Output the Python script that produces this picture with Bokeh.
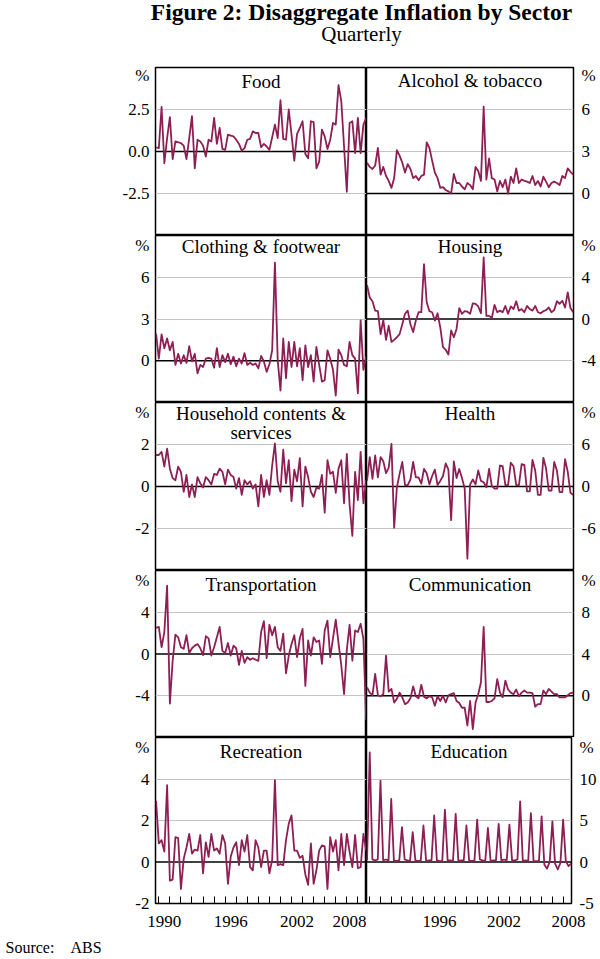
import pandas as pd
from bokeh.plotting import figure
from bokeh.layouts import column, row
from bokeh.models import Range1d, FixedTicker, Span, Label
from bokeh.embed import file_html
from bokeh.resources import INLINE

# ---------------- data (quarterly, 1989Q4 - 2008Q4) ----------------
QUARTERS = pd.period_range("1989Q4", "2008Q4", freq="Q")
X = [q.year + (q.quarter - 1) / 4 for q in QUARTERS]

FOOD = [0.25, 0.2, 2.65, -0.7, 0.8, 2.05, -0.45, 0.6, 0.55, 0.5,
        0.35, -0.45, 0.8, 2.1, -1.0, 0.7, 0.6, 0.35, -0.3, 0.7,
        0.6, 2.0, 0.45, 1.4, 0.15, 0.1, 1.0, 0.95, 0.9, 0.7,
        0.45, 0.05, 0.2, 0.7, 0.75, 1.2, 1.1, 1.1, 0.25, 0.45,
        0.3, 0.1, 0.85, 1.6, 0.8, 3.05, 0.75, 0.7, 2.5, 1.0,
        -0.55, 1.05, 1.4, 1.8, -0.15, -0.4, 1.8, 1.75, -1.0, -0.6,
        1.3, 0.9, 0.15, 0.7, 1.7, 1.6, 3.95, 3.0, 0.3, -2.4,
        1.7, 1.8, -0.1, 2.0, -0.1, 1.6, 2.0]

ALCOHOL_TOBACCO = [2.2, 1.9, 1.75, 2.0, 3.25, 1.35, 1.9, 1.25, 0.9, 0.4,
                   1.1, 3.1, 2.7, 2.2, 1.5, 2.1, 1.75, 1.1, 1.25, 0.95,
                   1.25, 1.35, 3.65, 3.25, 2.35, 1.5, 1.1, 0.4, 0.45, 0.25,
                   0.15, 0.0, 1.4, 0.75, 0.75, 0.5, 0.3, 0.75, 0.6, 0.3,
                   1.9, 1.6, 0.9, 6.2, 1.0, 2.5, 1.1, 1.0, 0.15, 0.9,
                   0.45, 1.0, 0.0, 1.2, 0.75, 1.8, 0.75, 1.0, 0.9, 0.85,
                   0.75, 1.25, 0.6, 0.9, 0.5, 1.2, 0.85, 0.45, 0.75, 0.85,
                   0.75, 0.6, 1.25, 1.1, 1.8, 1.55, 1.35]

CLOTHING_FOOTWEAR = [1.95, 0.15, 1.9, 0.9, 1.6, 0.75, 1.35, -0.3, 0.5, -0.2,
                     0.4, -0.15, 1.05, -0.05, 0.5, -0.9, -0.3, -0.45, 0.15, 0.2,
                     0.15, -0.5, 0.9, -0.45, 0.4, -0.1, 0.5, -0.25, 0.3, -0.4,
                     0.15, -0.2, 0.55, -0.3, -0.15, -0.3, -0.2, -0.55, 0.35, -0.05,
                     -0.8, -0.25, 0.75, 7.05, 0.05, -2.15, 1.6, -1.25, 1.35, -0.45,
                     1.35, -0.4, 0.9, -1.4, 1.1, -0.45, 0.4, -1.5, 1.0, -0.3,
                     -1.5, -1.4, 0.75, 0.15, -0.65, -2.5, 0.8, 0.4, -0.3, -0.4,
                     1.35, 0.4, 0.15, -2.35, 2.9, -0.65, 0.3]

HOUSING = [3.25, 2.05, 1.7, 0.8, 0.75, -1.45, -0.1, -2.0, -0.65, -2.2,
           -2.0, -1.75, -1.45, -0.5, 0.5, 0.8, -0.5, -1.25, -0.15, 0.65,
           0.65, 5.25, 1.6, 0.75, 0.65, -0.15, 0.55, -0.8, -2.7, -2.95,
           -3.4, -1.1, -1.75, -0.95, 1.05, 0.5, 0.75, 0.7, 0.5, 1.5,
           1.45, 1.2, 0.55, 5.9, 0.3, 0.3, 0.1, 1.35, 0.65, 0.8,
           0.65, 1.25, 0.5, 1.2, 0.95, 1.7, 0.8, 0.95, 0.65, 1.25,
           0.95, 0.8, 1.25, 0.65, 0.55, 0.75, 0.85, 1.1, 0.65, 0.85,
           1.7, 1.45, 1.75, 1.1, 2.55, 1.05, 0.65]

HOUSEHOLD = [1.5, 1.5, 1.65, 0.95, 1.8, 0.85, 0.4, 0.3, 0.95, 0.7,
             -0.25, 0.55, -0.5, 0.1, -0.5, 0.45, 0.15, -0.05, 0.45, 0.3,
             0.1, 0.6, 0.55, 0.85, 0.7, 0.1, 0.8, 0.55, 0.45, -0.1,
             0.4, -0.4, 0.3, 0.1, 0.25, -0.1, 0.1, -0.95, 0.55, -0.5,
             0.3, -0.4, 1.0, 2.05, 0.25, -0.25, 1.75, 0.15, 1.25, -0.7,
             0.8, 0.25, 1.35, -0.95, 0.95, 0.45, -0.25, -0.5, -0.05, -0.1,
             0.55, -1.25, 1.25, 0.6, 0.7, -0.3, 0.85, 1.25, -0.8, 1.55,
             -0.85, -2.35, 0.7, -0.65, 1.65, -0.8, 0.3]

HEALTH = [0.85, 4.2, 1.1, 4.45, 1.3, 4.2, 3.6, 1.9, 2.7, 6.1,
          -5.9, -0.1, 1.8, 3.5, 0.2, 0.2, 1.0, 3.5, 1.3, 1.3,
          0.4, 2.5, 1.9, 0.3, 1.5, 2.4, 0.2, 0.8, 1.5, 3.3,
          2.4, -4.8, 3.6, 1.2, 2.5, 1.2, -0.3, -10.3, 0.3, 1.0,
          0.3, 2.3, 0.8, 0.6, -0.1, 2.5, 0.1, -0.3, -0.3, 3.0,
          2.9, 0.2, 0.2, 3.4, 2.9, 0.2, 0.2, 3.2, 3.1, -0.7,
          -0.7, 3.8, 2.3, -1.2, -1.2, 4.1, 2.6, -0.6, -0.6, 3.5,
          2.3, -0.8, -0.8, 3.9, 2.1, -0.9, -1.2]

TRANSPORTATION = [2.5, 2.6, 0.65, 2.1, 6.55, -4.75, -0.65, 1.85, 1.6, 0.65,
                  0.5, 1.8, 0.1, 0.55, 0.8, 0.95, 0.55, -0.1, 1.7, 1.5,
                  -0.15, 0.65, 1.6, 2.6, 0.3, 0.1, 1.05, -0.15, 0.8, 0.55,
                  -1.05, 0.3, -0.85, -0.3, -0.55, -0.4, -0.55, -0.65, 2.1, 3.15,
                  -0.4, 2.8, 1.8, 2.6, 0.65, 0.3, 1.95, -1.85, -0.15, 0.95,
                  1.8, -0.3, 1.5, 2.4, -3.05, 1.3, -0.15, 1.6, 1.15, 1.3,
                  -0.95, 2.25, 3.2, -0.3, 1.5, 3.3, 1.05, -1.1, -3.85, 0.4,
                  2.8, -0.65, 2.25, 2.1, 2.9, 1.45, -6.3]

COMMUNICATION = [0.8, 0.3, 0.05, 2.1, 0.05, -0.05, 0.15, 3.85, 0.4, 0.65,
                 -0.65, -0.3, 0.3, -0.15, -0.8, -0.65, -0.25, 0.9, -0.05, -0.25,
                 1.05, -0.1, -0.25, -0.05, -0.15, -0.95, -0.05, -0.5, 0.0, -0.65,
                 0.05, 0.15, 0.25, -0.5, -0.7, -1.15, -1.15, -2.85, -0.5, -3.2,
                 -0.65, 0.15, 1.3, 6.6, -0.6, -0.6, -0.5, -0.25, 1.6, 0.3,
                 -0.15, 1.45, 0.6, 0.3, 0.15, 0.6, -0.05, 0.3, 0.5, 0.3,
                 0.3, 0.25, -1.05, -0.8, -0.8, 0.5, 0.15, 0.65, 0.4, 0.15,
                 0.15, -0.15, -0.15, -0.15, 0.05, 0.25, 0.3]

RECREATION = [2.95, 0.9, 1.05, 0.5, 3.7, -0.9, -0.85, 1.2, 1.15, -1.3,
              0.15, 0.7, 1.35, 0.4, 0.6, 0.55, 1.3, -0.55, 0.95, 0.25,
              1.35, 0.55, 0.65, 0.4, 1.3, 0.9, -1.05, 0.25, 0.7, 0.95,
              -0.15, 1.05, 0.5, 1.3, -0.25, -0.4, 1.05, 0.7, -0.25, 0.55,
              0.55, -0.55, 0.1, 3.95, -0.15, -0.1, -0.15, 1.05, 1.85, 2.25,
              0.55, 0.55, 0.2, 0.3, -0.6, -1.1, 0.9, -1.05, -0.4, 0.55,
              0.8, 0.75, -1.3, 1.2, 0.5, 1.05, -0.4, 1.35, -0.15, 1.35,
              0.5, -0.25, 1.3, -0.3, -0.25, 1.35, 0.55]

EDUCATION = [0.2,
             13.2, 0.3, 0.2, 0.3,
             9.8, 0.2, 0.3, 0.2,
             7.6, 0.2, 0.1, 0.2,
             4.2, 0.3, 0.2, 0.1,
             3.6, 0.2, 0.1, 0.2,
             4.4, 0.1, 0.2, 0.2,
             5.6, 0.2, 0.1, 0.1,
             6.3, 0.2, 0.2, 0.1,
             5.8, 0.1, 0.2, 0.2,
             4.4, 0.2, 0.1, 0.2,
             5.1, 0.3, 0.2, 0.1,
             4.1, 0.1, 0.2, 0.2,
             4.6, 0.2, 0.3, 0.2,
             4.5, 0.2, 0.2, 0.3,
             7.3, 0.1, 0.2, 0.1,
             5.9, 0.1, 0.1, 0.1,
             5.5, -0.3, -0.8, 0.0,
             4.9, -0.2, -0.9, -0.1,
             5.1, 0.1, -0.5, -0.2]

YEARS = list(range(1990, 2009))
LEFT_YEAR_LABELS = ["1990", "1996", "2002", "2008"]
RIGHT_YEAR_LABELS = ["1996", "2002", "2008"]

PANELS = [
    [dict(title=["Food"], data=FOOD, lim=(-5, 5), ticks=[2.5, 0, -2.5],
          texts=["2.5", "0.0", "-2.5"], tb=[20.7]),
     dict(title=["Alcohol & tobacco"], data=ALCOHOL_TOBACCO, lim=(-3, 9), ticks=[6, 3, 0],
          texts=["6", "3", "0"], tb=[19.7])],
    [dict(title=["Clothing & footwear"], data=CLOTHING_FOOTWEAR, lim=(-3, 9), ticks=[6, 3, 0],
          texts=["6", "3", "0"], tb=[18.3]),
     dict(title=["Housing"], data=HOUSING, lim=(-8, 8), ticks=[4, 0, -4],
          texts=["4", "0", "-4"], tb=[17.7])],
    [dict(title=["Household contents &", "services"], data=HOUSEHOLD, lim=(-4, 4), ticks=[2, 0, -2],
          texts=["2", "0", "-2"], tb=[18.0, 37.3]),
     dict(title=["Health"], data=HEALTH, lim=(-12, 12), ticks=[6, 0, -6],
          texts=["6", "0", "-6"], tb=[18.0])],
    [dict(title=["Transportation"], data=TRANSPORTATION, lim=(-8, 8), ticks=[4, 0, -4],
          texts=["4", "0", "-4"], tb=[21.0]),
     dict(title=["Communication"], data=COMMUNICATION, lim=(-4, 12), ticks=[8, 4, 0],
          texts=["8", "4", "0"], tb=[21.0])],
    [dict(title=["Recreation"], data=RECREATION, lim=(-2, 6), ticks=[4, 2, 0, -2],
          texts=["4", "2", "0", "-2"], tb=[20.6]),
     dict(title=["Education"], data=EDUCATION, lim=(-5, 15), ticks=[10, 5, 0, -5],
          texts=["10", "5", "0", "-5"], tb=[20.6])],
]

for pair in PANELS:
    for spec in pair:
        assert len(spec["data"]) == len(X), (spec["title"], len(spec["data"]))

# ---------------- styling / geometry ----------------
FONT = "Liberation Serif"
LINE_COLOR = "#8e1f55"
GRID_COLOR = "#c4c4c4"
X0, X1 = 1989.7, 2008.78
ROW_H = [168, 167, 168, 167, 166]
LEFT_BORDER, LEFT_FRAME = 155, 211
RIGHT_FRAME, RIGHT_BORDER = 207, 26
TOP_PAD, BOTTOM_PAD = 2, 34
PCT_OFFSET = 7
TOTAL_W = LEFT_BORDER + LEFT_FRAME + RIGHT_FRAME + RIGHT_BORDER
TITLE_H = 65
SOURCE_H = 958 - TITLE_H - TOP_PAD - sum(ROW_H) - BOTTOM_PAD
PANEL_FS = 19
SHIFT_EM = 0.36   # labels render about 0.36em below their anchor


def style_axis(ax, standoff):
    ax.axis_line_color = None
    ax.major_tick_in = 0
    ax.major_tick_out = 0
    ax.major_tick_line_color = None
    ax.minor_tick_in = 0
    ax.minor_tick_out = 0
    ax.major_label_standoff = standoff
    ax.major_label_text_font = FONT
    ax.major_label_text_font_size = "17px"
    ax.major_label_text_color = "black"


def make_panel(spec, r, side):
    h = ROW_H[r]
    last = r == len(ROW_H) - 1
    top = TOP_PAD if r == 0 else 0
    bottom = BOTTOM_PAD if last else 0
    if side == "left":
        width, bl, br = LEFT_BORDER + LEFT_FRAME, LEFT_BORDER, 0
    else:
        width, bl, br = RIGHT_FRAME + RIGHT_BORDER, 0, RIGHT_BORDER
    ymin, ymax = spec["lim"]
    yspan = ymax - ymin
    p = figure(width=width, height=h + top + bottom,
               x_range=Range1d(X0, X1), y_range=Range1d(ymin, ymax),
               output_backend="svg", toolbar_location=None, tools="", title=None,
               x_axis_location="below" if last else None, y_axis_location=side,
               min_border_left=bl, min_border_right=br,
               min_border_top=top, min_border_bottom=bottom,
               background_fill_color="white", border_fill_color="white")
    p.outline_line_color = "black"
    p.outline_line_width = 1.5
    p.xgrid.visible = False

    grid_vals = [float(t) for t in spec["ticks"] if t != 0 and ymin < t < ymax]
    p.ygrid.ticker = FixedTicker(ticks=grid_vals)
    p.ygrid.grid_line_color = GRID_COLOR
    p.ygrid.grid_line_width = 1

    pct = ymax - PCT_OFFSET / h * yspan
    overrides = {float(t): s for t, s in zip(spec["ticks"], spec["texts"])}
    overrides[pct] = "%"
    yax = p.yaxis[0]
    yax.ticker = FixedTicker(ticks=[float(t) for t in spec["ticks"]] + [pct])
    yax.major_label_overrides = overrides
    style_axis(yax, 6 if side == "left" else 8)

    if last:
        labels = LEFT_YEAR_LABELS if side == "left" else RIGHT_YEAR_LABELS
        pos = [int(s) + 0.5 for s in labels]
        xax = p.xaxis[0]
        xax.ticker = FixedTicker(ticks=pos, minor_ticks=[float(y) for y in YEARS])
        xax.major_label_overrides = {ps: s for ps, s in zip(pos, labels)}
        style_axis(xax, 12)
        xax.minor_tick_in = 7
        xax.minor_tick_out = 0
        xax.minor_tick_line_color = "black"
        xax.minor_tick_line_width = 1

    p.add_layout(Span(location=0, dimension="width", line_color="black",
                      line_width=1.3, level="underlay"))
    p.line(X, spec["data"], line_color=LINE_COLOR, line_width=1.8, line_join="round")

    for txt, d in zip(spec["title"], spec["tb"]):
        anchor = d - SHIFT_EM * PANEL_FS
        p.add_layout(Label(x=(X0 + X1) / 2, y=ymax - anchor / h * yspan, text=txt,
                           text_align="center", text_baseline="alphabetic",
                           text_font=FONT, text_font_size=f"{PANEL_FS}px", text_color="black"))
    return p


def text_fig(h):
    f = figure(width=TOTAL_W, height=h, x_range=Range1d(0, TOTAL_W), y_range=Range1d(0, h),
               output_backend="svg", toolbar_location=None, tools="", title=None,
               x_axis_location=None, y_axis_location=None,
               min_border_left=0, min_border_right=0, min_border_top=0, min_border_bottom=0,
               background_fill_color="white", border_fill_color="white")
    f.outline_line_color = None
    f.grid.visible = False
    return f


def add_text(f, x, baseline_from_top, text, fs, align="center", style="normal"):
    anchor = baseline_from_top - SHIFT_EM * fs
    f.add_layout(Label(x=x, y=f.height - anchor, text=text, text_align=align,
                       text_baseline="alphabetic", text_font=FONT, text_font_style=style,
                       text_font_size=f"{fs}px", text_color="black"))


title_fig = text_fig(TITLE_H)
add_text(title_fig, 361, 19.5, "Figure 2: Disaggregate Inflation by Sector", 23.5, style="bold")
add_text(title_fig, 361, 41.5, "Quarterly", 21)

source_fig = text_fig(SOURCE_H)
add_text(source_fig, 5, 16, "Source:", 16, align="left")
add_text(source_fig, 70, 16, "ABS", 16, align="left")

rows = []
for r, (lspec, rspec) in enumerate(PANELS):
    rows.append(row(make_panel(lspec, r, "left"), make_panel(rspec, r, "right"), spacing=0))

layout = column(title_fig, *rows, source_fig, spacing=0)

open("out.html", "w").write(file_html(layout, INLINE, "Figure 2: Disaggregate Inflation by Sector"))
